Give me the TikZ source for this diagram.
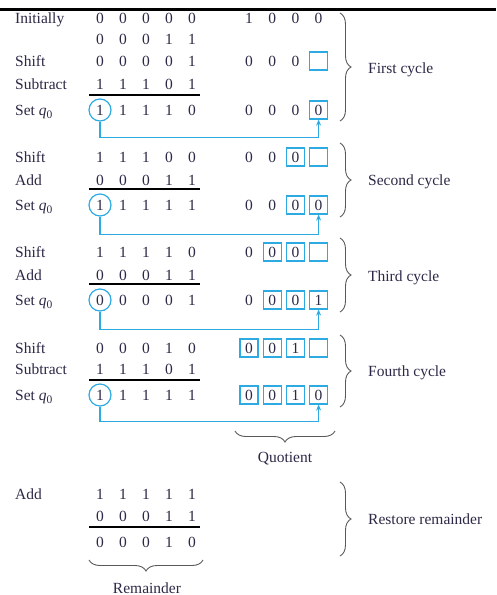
\documentclass[tikz,border=0pt]{standalone}
\usepackage{fontspec}
\setmainfont{Liberation Serif}
\usetikzlibrary{decorations.pathreplacing,arrows.meta}

\definecolor{qblue}{RGB}{45,170,225}
\definecolor{ink}{RGB}{45,40,70}
\newcommand{\figfont}{\fontsize{15.5}{18}\selectfont}
\newcommand{\qz}{\textit{q}\raisebox{-0.55ex}{\fontsize{11.5}{12}\selectfont 0}}

\tikzstyle{lbl} = [anchor=west, inner sep=0pt, text height=10pt, text depth=0pt, font=\figfont, text=ink]
\tikzstyle{note} = [inner sep=0pt, text height=10pt, text depth=0pt, font=\figfont, text=ink]
\tikzstyle{digit} = [inner sep=0pt, text height=10pt, text depth=0pt, font=\figfont, text=ink]
\tikzstyle{qbox} = [digit, draw=qblue, line width=1.2pt, minimum width=18pt, minimum height=18pt]
\tikzstyle{qcirc} = [circle, draw=qblue, line width=1.2pt, minimum size=22pt, inner sep=0pt]
\tikzstyle{link} = [qblue, line width=1.3pt, -{Stealth[length=6pt,width=5pt]}]
\tikzstyle{bar} = [black, line width=1.2pt]
\tikzstyle{cbrace} = [decorate, decoration={brace, amplitude=11pt}, draw=black!65, line width=0.9pt]

% a row of the remainder register, and a row of the quotient register
\newcommand{\remrow}[3]{\foreach \v [count=\i] in {#3}
  \node (#1-\i) [digit] at ({100+23*(\i-1)}, #2) {\v};}
\newcommand{\quorow}[3]{\foreach \v/\s [count=\i] in {#3}
  \node (#1-\i) [\s] at ({249+23.2*(\i-1)}, #2) {\v};}

\begin{document}
\begin{tikzpicture}[x = 1pt, y = -1pt]

\useasboundingbox (0,0) rectangle (496,595);

\draw[line width=2.5pt] (0,9.5) -- (496,9.5);

% ---------------- first cycle ----------------
  \node (init) [lbl] at (15,18) {Initially};
  \remrow{a0}{18}{0,0,0,0,0}
  \quorow{qa0}{18}{1/digit,0/digit,0/digit,0/digit}
  \remrow{m}{39.5}{0,0,0,1,1}

  \node (shift1) [lbl] at (15,61) {Shift};
  \remrow{a1}{61}{0,0,0,0,1}
  \quorow{qa1}{61}{0/digit,0/digit,0/digit,/qbox}
  \node (sub1) [lbl] at (15,84) {Subtract};
  \remrow{b1}{84}{1,1,1,0,1}
  \draw[bar] (89,95) -- (200,95);
  \node (set1) [lbl] at (15,110) {Set \qz};
  \remrow{c1}{110}{1,1,1,1,0}
  \quorow{qc1}{110}{0/digit,0/digit,0/digit,0/qbox}
  \node (o1) [qcirc] at (c1-1) {};
  \draw[link] (o1.south) -- ++(0,16) -| (qc1-4.south);

% ---------------- second cycle ----------------
  \node (shift2) [lbl] at (15,157) {Shift};
  \remrow{a2}{157}{1,1,1,0,0}
  \quorow{qa2}{157}{0/digit,0/digit,0/qbox,/qbox}
  \node (add2) [lbl] at (15,180) {Add};
  \remrow{b2}{180}{0,0,0,1,1}
  \draw[bar] (89,189) -- (200,189);
  \node (set2) [lbl] at (15,205) {Set \qz};
  \remrow{c2}{205}{1,1,1,1,1}
  \quorow{qc2}{205}{0/digit,0/digit,0/qbox,0/qbox}
  \node (o2) [qcirc] at (c2-1) {};
  \draw[link] (o2.south) -- ++(0,18) -| (qc2-4.south);

% ---------------- third cycle ----------------
  \node (shift3) [lbl] at (15,252) {Shift};
  \remrow{a3}{252}{1,1,1,1,0}
  \quorow{qa3}{252}{0/digit,0/qbox,0/qbox,/qbox}
  \node (add3) [lbl] at (15,275) {Add};
  \remrow{b3}{275}{0,0,0,1,1}
  \draw[bar] (89,284) -- (200,284);
  \node (set3) [lbl] at (15,300) {Set \qz};
  \remrow{c3}{300}{0,0,0,0,1}
  \quorow{qc3}{300}{0/digit,0/qbox,0/qbox,1/qbox}
  \node (o3) [qcirc] at (c3-1) {};
  \draw[link] (o3.south) -- ++(0,18) -| (qc3-4.south);

% ---------------- fourth cycle ----------------
  \node (shift4) [lbl] at (15,348) {Shift};
  \remrow{a4}{348}{0,0,0,1,0}
  \quorow{qa4}{348}{0/qbox,0/qbox,1/qbox,/qbox}
  \node (sub4) [lbl] at (15,369) {Subtract};
  \remrow{b4}{369}{1,1,1,0,1}
  \draw[bar] (89,380) -- (200,380);
  \node (set4) [lbl] at (15,395) {Set \qz};
  \remrow{c4}{395}{1,1,1,1,1}
  \quorow{qc4}{395}{0/qbox,0/qbox,1/qbox,0/qbox}
  \node (o4) [qcirc] at (c4-1) {};
  \draw[link] (o4.south) -- ++(0,15) -| (qc4-4.south);

% ---------------- restore remainder ----------------
  \node (add5) [lbl] at (15,494) {Add};
  \remrow{a5}{494}{1,1,1,1,1}
  \remrow{b5}{516}{0,0,0,1,1}
  \draw[bar] (89,527) -- (200,527);
  \remrow{c5}{542}{0,0,0,1,0}

% braces and their labels
  \draw[cbrace] (340,13) -- (340,121);
  \node (cyc1) [lbl] at (368,68) {First cycle};
  \draw[cbrace] (340,143) -- (340,217);
  \node (cyc2) [lbl] at (368,180) {Second cycle};
  \draw[cbrace] (340,238) -- (340,312);
  \node (cyc3) [lbl] at (368,276) {Third cycle};
  \draw[cbrace] (340,335) -- (340,407);
  \node (cyc4) [lbl] at (368,371) {Fourth cycle};
  \draw[cbrace] (340,482) -- (340,556);
  \node (rest) [lbl] at (368,519) {Restore remainder};

  \draw[cbrace] (335,431) -- (235,431);
  \node (quot) [note] at (285,457) {Quotient};
  \draw[cbrace] (203,560) -- (89,560);
  \node (rem) [note] at (147,588) {Remainder};

\end{tikzpicture}
\end{document}
